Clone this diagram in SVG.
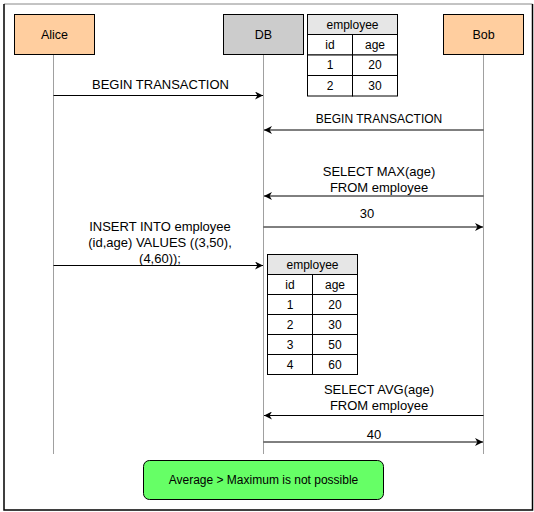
<svg xmlns="http://www.w3.org/2000/svg" width="534" height="512" viewBox="0 0 534 512">
<defs>
<marker id="ah" viewBox="0 0 10 10" refX="10" refY="5" markerWidth="8" markerHeight="8" markerUnits="userSpaceOnUse" orient="auto">
<path d="M0,0 L10,5 L0,10 L3,5 Z" fill="#000"/>
</marker>
<style>
text{font-family:"Liberation Sans",Arial,sans-serif;font-size:12px;fill:#000;text-anchor:middle;dominant-baseline:central}
.m{font-size:13px}
.life{stroke:#a0a0a0;stroke-width:1;fill:none}
.msg{stroke:#000;stroke-width:1;fill:none;marker-end:url(#ah)}
.cell{fill:#fff;stroke:#000;stroke-width:1}
.hdr{fill:#e6e6e6;stroke:#000;stroke-width:1}
.actor{fill:#ffce9f;stroke:#000;stroke-width:1}
</style>
</defs>
<rect width="534" height="512" fill="#fff"/>
<line x1="4" y1="4" x2="532.5" y2="4" stroke="#888" stroke-width="1"/>
<polyline points="4,4 4,510 532.5,510 532.5,4" fill="none" stroke="#000" stroke-width="1.5"/>

<g id="lifelines">
<line class="life" x1="53.5" y1="54" x2="53.5" y2="454"/>
<line class="life" x1="263.5" y1="54" x2="263.5" y2="454"/>
<line class="life" x1="483.5" y1="54" x2="483.5" y2="454"/>
</g>

<g id="alice"><rect class="actor" x="14.5" y="14.5" width="80" height="40"/><text x="54.5" y="34.5" style="font-size:12.5px">Alice</text></g>
<g id="db"><rect x="223.5" y="14.5" width="80" height="40" fill="#cccccc" stroke="#000"/><text x="263.5" y="34.5" style="font-size:12.5px">DB</text></g>
<g id="bob"><rect class="actor" x="443.5" y="14.5" width="80" height="40"/><text x="483.5" y="34.5" style="font-size:12.5px">Bob</text></g>

<g id="table1">
<rect class="hdr" x="307.5" y="14.5" width="90" height="20"/>
<text x="352.5" y="24.5">employee</text>
<rect class="cell" x="307.5" y="34.5" width="45" height="20.5"/><rect class="cell" x="352.5" y="34.5" width="45" height="20.5"/>
<rect class="cell" x="307.5" y="55" width="45" height="20.5"/><rect class="cell" x="352.5" y="55" width="45" height="20.5"/>
<rect class="cell" x="307.5" y="75.5" width="45" height="20.5"/><rect class="cell" x="352.5" y="75.5" width="45" height="20.5"/>
<text x="330" y="44.5">id</text><text x="375" y="44.5">age</text>
<text x="330" y="65">1</text><text x="375" y="65">20</text>
<text x="330" y="85.5">2</text><text x="375" y="85.5">30</text>
</g>

<g id="table2">
<rect class="hdr" x="267.5" y="254.5" width="90" height="20"/>
<text x="312.5" y="264.5">employee</text>
<rect class="cell" x="267.5" y="274.5" width="45" height="20"/><rect class="cell" x="312.5" y="274.5" width="45" height="20"/>
<rect class="cell" x="267.5" y="294.5" width="45" height="20"/><rect class="cell" x="312.5" y="294.5" width="45" height="20"/>
<rect class="cell" x="267.5" y="314.5" width="45" height="20"/><rect class="cell" x="312.5" y="314.5" width="45" height="20"/>
<rect class="cell" x="267.5" y="334.5" width="45" height="20"/><rect class="cell" x="312.5" y="334.5" width="45" height="20"/>
<rect class="cell" x="267.5" y="354.5" width="45" height="20"/><rect class="cell" x="312.5" y="354.5" width="45" height="20"/>
<text x="290" y="284.5">id</text><text x="335" y="284.5">age</text>
<text x="290" y="304.5">1</text><text x="335" y="304.5">20</text>
<text x="290" y="324.5">2</text><text x="335" y="324.5">30</text>
<text x="290" y="344.5">3</text><text x="335" y="344.5">50</text>
<text x="290" y="364.5">4</text><text x="335" y="364.5">60</text>
</g>

<g id="connectors">
<line class="msg" x1="53.5" y1="95.5" x2="263" y2="95.5"/>
<text class="m" x="160.5" y="84.5">BEGIN TRANSACTION</text>
<line class="msg" x1="483.5" y1="130" x2="264" y2="130"/>
<text x="379" y="118.5">BEGIN TRANSACTION</text>
<line class="msg" x1="483.5" y1="196" x2="264" y2="196"/>
<text class="m" x="379" y="171">SELECT MAX(age)</text>
<text class="m" x="379" y="187">FROM employee</text>
<line class="msg" x1="263.5" y1="227" x2="483" y2="227"/>
<text class="m" x="367" y="213">30</text>
<line class="msg" x1="53.5" y1="265.5" x2="263" y2="265.5"/>
<text class="m" x="160" y="226">INSERT INTO employee</text>
<text class="m" x="160" y="242">(id,age) VALUES ((3,50),</text>
<text class="m" x="160" y="258">(4,60));</text>
<line class="msg" x1="483.5" y1="415.5" x2="264" y2="415.5"/>
<text class="m" x="379" y="389">SELECT AVG(age)</text>
<text class="m" x="379" y="405">FROM employee</text>
<line class="msg" x1="263.5" y1="442" x2="483" y2="442"/>
<text class="m" x="374" y="434">40</text>
</g>

<g id="note">
<rect x="143.5" y="460.5" width="240" height="39" rx="6" ry="6" fill="#66ff66" stroke="#000"/>
<text x="263.5" y="480">Average &gt; Maximum is not possible</text>
</g>
</svg>
